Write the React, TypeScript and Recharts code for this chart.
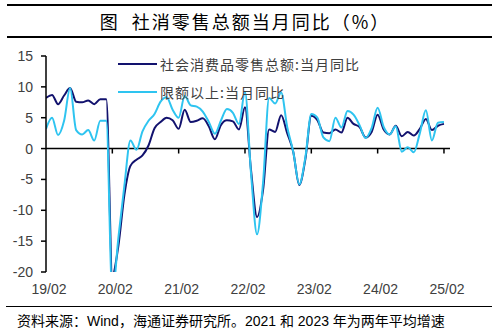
import React from 'react';
import { LineChart, Line, XAxis, YAxis, ReferenceLine, Legend } from 'recharts';

// 社会消费品零售总额:当月同比 (%), 每年 2-12 月（1 月并入 2 月），2021/2023 为两年平均
const totalYoY = [
  8.2, 8.7, 7.2, 8.6, 9.8, 7.6, 7.5, 7.8, 7.2, 8.0, 8.0,
  -20.5, -15.8, -7.5, -2.8, -1.8, -1.1, 0.5, 3.3, 4.3, 5.0, 4.6,
  3.2, 6.3, 4.3, 4.5, 4.9, 3.6, 1.5, 3.8, 4.6, 4.4, 3.1,
  6.7, -3.5, -11.1, -6.7, 3.1, 2.7, 5.4, 2.5, -0.5, -5.9, -1.8,
  5.3, 4.6, 2.6, 2.5, 3.1, 2.6, 5.0, 4.0, 3.5, 1.8, 2.7,
  5.5, 3.1, 2.3, 3.7, 2.0, 2.7, 2.1, 3.2, 4.8, 3.0, 3.7,
  4.0,
];

// 限额以上:当月同比 (%)
const aboveQuotaYoY = [
  3.2, 5.0, 2.2, 4.5, 9.8, 3.0, 2.3, 3.0, 1.3, 4.5, 4.5,
  -23.5, -14.5, -6.0, 1.3, -0.2, 2.8, 4.5, 5.6, 7.6, 8.3, 6.3,
  5.0, 8.5, 7.0, 6.8, 6.0, 4.3, 2.4, 4.5, 6.4, 5.8, 4.0,
  9.2, -4.0, -13.9, -5.5, 8.2, 7.3, 9.1, 3.5, -0.5, -5.8, -1.5,
  5.6, 5.0, 1.8, 1.2, 5.0, 3.4, 6.1, 5.5, 3.8, 1.7, 3.3,
  6.6, 3.5, 2.3, 3.6, -0.5, 0.2, -0.6, 2.5, 6.2, 1.3, 4.2,
  4.3,
];

const TICK_LABELS = ['19/02', '20/02', '21/02', '22/02', '23/02', '24/02', '25/02'];
const POINTS_PER_YEAR = 11;
const Y_TICKS = [-20, -15, -10, -5, 0, 5, 10, 15];

const SERIES_NAMES = ['社会消费品零售总额:当月同比', '限额以上:当月同比'];
const COLORS = ['#12126e', '#2ec4f0'];

const data = totalYoY.map((v, i) => ({ idx: i, total: v, above: aboveQuotaYoY[i] }));
const xTicks = TICK_LABELS.map((_, i) => i * POINTS_PER_YEAR);

const FONT = '"Liberation Sans", "Noto Sans CJK SC", sans-serif';

const LegendBox = (props: any) => {
  const { payload } = props;
  return (
    <div style={{ fontFamily: '"Noto Sans CJK SC", sans-serif', fontSize: 14, color: '#404040', letterSpacing: 1 }}>
      {(payload || []).map((p: any) => (
        <div key={p.value} style={{ display: 'flex', alignItems: 'center', height: 28 }}>
          <span style={{ display: 'inline-block', width: 39, height: 2, background: p.color, marginRight: 3 }} />
          <span style={{ whiteSpace: 'nowrap' }}>{p.value}</span>
        </div>
      ))}
    </div>
  );
};

const App = () => {
  return (
    <div style={{ position: 'absolute', left: 0, top: 0, width: 497, height: 336, background: '#fff', fontFamily: FONT }}>
      <div style={{ position: 'absolute', left: 7, top: 4, width: 485, height: 1.6, background: '#000' }} />
      <div
        style={{
          position: 'absolute', left: 0, top: 11, width: 490, textAlign: 'center',
          fontFamily: '"Noto Sans CJK SC", sans-serif', fontSize: 18, lineHeight: '20px',
          letterSpacing: 2, color: '#000', whiteSpace: 'pre',
        }}
      >
        {'图  社消零售总额当月同比（%）'}
      </div>
      <div style={{ position: 'absolute', left: 7, top: 36, width: 485, height: 1.6, background: '#000' }} />

      <div style={{ position: 'absolute', left: 0, top: 40 }}>
        <LineChart width={497} height={262} data={data} margin={{ top: 16, right: 47, bottom: 0, left: 0 }}>
          <XAxis
            dataKey="idx"
            type="number"
            domain={[0, 67]}
            ticks={xTicks}
            allowDataOverflow
            axisLine={false}
            tickLine={false}
            tickSize={0}
            tickMargin={12}
            height={30}
            interval={0}
            tick={{ fill: '#404040', fontSize: 14, dx: 3 }}
            tickFormatter={(v: number) => TICK_LABELS[Math.round(v / POINTS_PER_YEAR)] ?? ''}
          />
          <YAxis
            type="number"
            domain={[-20, 15]}
            ticks={Y_TICKS}
            allowDataOverflow
            width={46}
            axisLine={{ stroke: '#000', strokeWidth: 1.5 }}
            tickLine={{ stroke: '#000', strokeWidth: 1.5 }}
            tickSize={5}
            tickMargin={8}
            interval={0}
            tick={{ fill: '#404040', fontSize: 14 }}
          />
          <ReferenceLine y={0} stroke="#000" strokeWidth={1.5} />
          {xTicks.slice(1).map((t) => (
            <ReferenceLine
              key={t}
              segment={[{ x: t, y: 0 }, { x: t, y: -0.8 }]}
              stroke="#000"
              strokeWidth={1.5}
            />
          ))}
          <Legend
            layout="vertical"
            verticalAlign="middle"
            align="center"
            content={<LegendBox />}
            wrapperStyle={{ position: 'absolute', left: 118, top: 10, width: 'auto' }}
          />
          <Line
            type="monotone"
            dataKey="total"
            name={SERIES_NAMES[0]}
            stroke={COLORS[0]}
            strokeWidth={2}
            dot={false}
            isAnimationActive={false}
          />
          <Line
            type="monotone"
            dataKey="above"
            name={SERIES_NAMES[1]}
            stroke={COLORS[1]}
            strokeWidth={2}
            dot={false}
            isAnimationActive={false}
          />
        </LineChart>
      </div>

      <div style={{ position: 'absolute', left: 6, top: 306, width: 486, height: 1.4, background: '#000' }} />
      <div style={{ position: 'absolute', left: 17, top: 312, fontSize: 14, lineHeight: '18px', color: '#000', whiteSpace: 'nowrap' }}>
        资料来源：Wind，海通证券研究所。2021 和 2023 年为两年平均增速
      </div>
    </div>
  );
};

export default App;
